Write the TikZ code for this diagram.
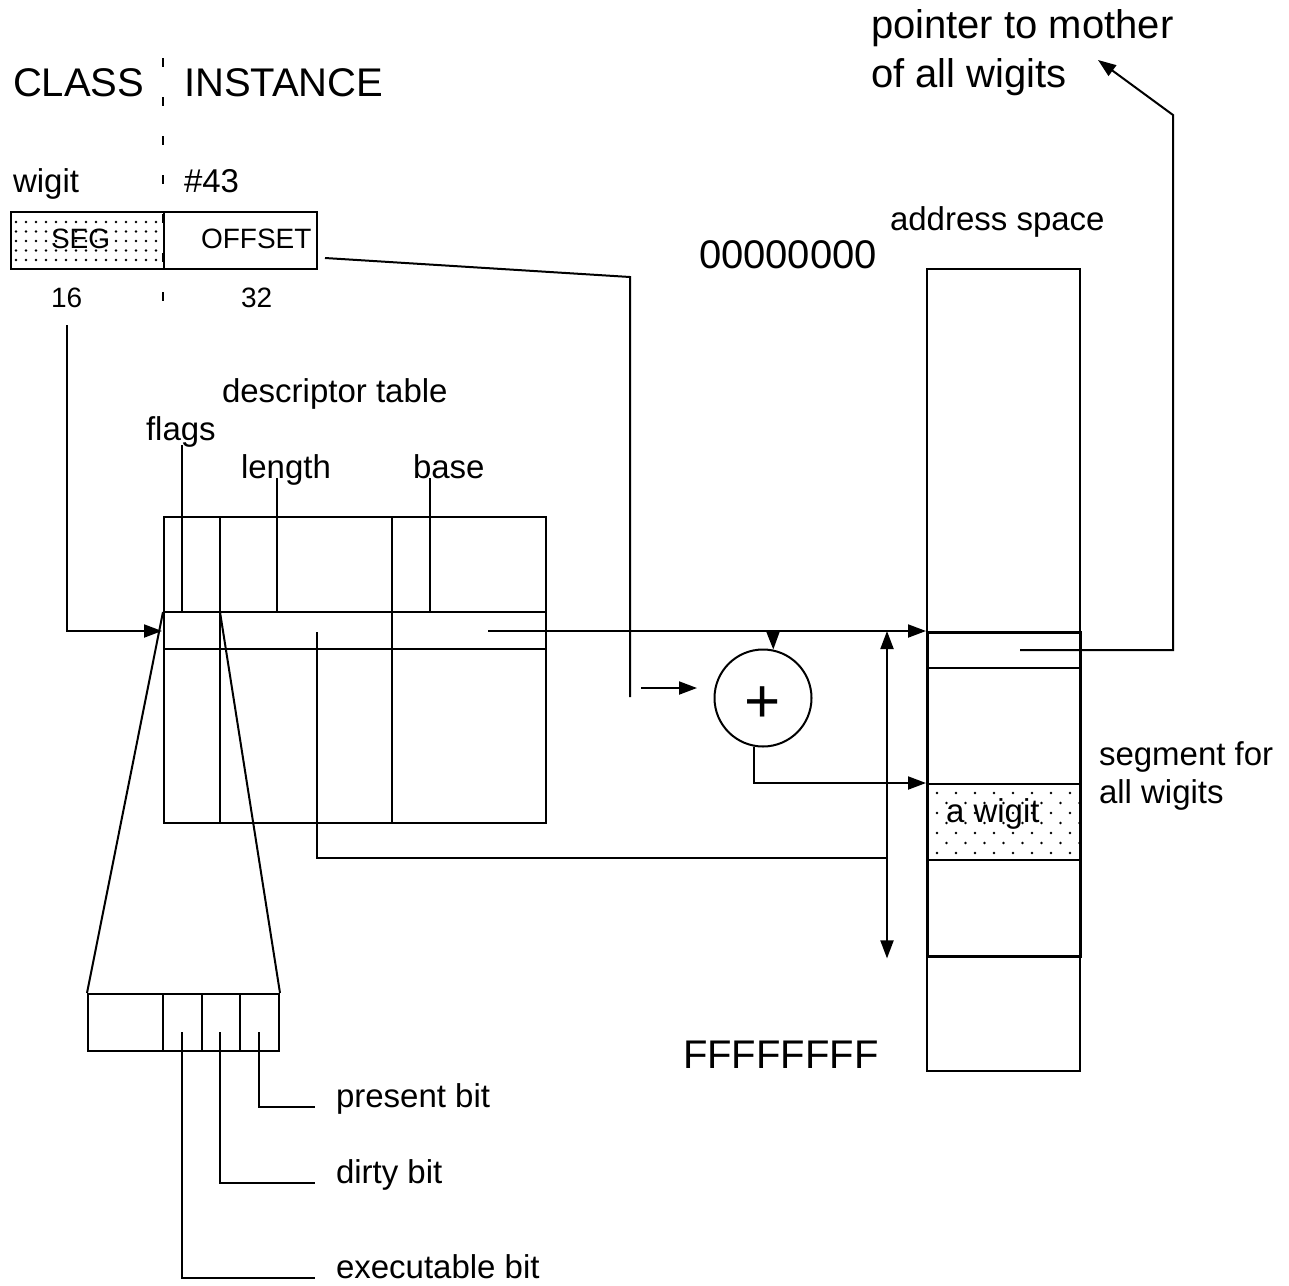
\documentclass[tikz,border=0pt]{standalone}
\usepackage{fontspec}
\setmainfont{Liberation Sans}
\usetikzlibrary{arrows.meta,positioning,calc}
\definecolor{ink}{HTML}{000000}
\newcommand{\bigtxt}{\fontsize{20}{24}\selectfont}
\newcommand{\midtxt}{\fontsize{16.5}{20}\selectfont}
\newcommand{\smalltxt}{\fontsize{14}{17}\selectfont}
\newcommand{\plustxt}{\fontsize{31}{31}\selectfont}
\newcommand{\lbl}[4]{%
  \node[anchor=base west, inner sep=0pt, text=ink] (#1) at (#2,#3) {#4};}
\begin{document}
\begin{tikzpicture}[x=0.5pt,y=-0.5pt,line width=1pt,color=ink,
  tip/.style={-{Triangle[length=9pt,width=6.5pt]}},
  twotip/.style={{Triangle[length=9pt,width=6.5pt]}-{Triangle[length=9pt,width=6.5pt]}},
  cell/.style={draw=ink,rectangle,inner sep=0pt,anchor=north west}]

\useasboundingbox (0,0) rectangle (1289,1285);

% ---------- class / instance header
\lbl{cls}{12}{96}{\bigtxt CLASS}
\lbl{inst}{183}{96}{\bigtxt INSTANCE}
\coordinate (divtop) at (163,58);
\coordinate (divbot) at (163,301);
\draw[dash pattern=on 4.5pt off 15pt] (divtop) -- (divbot);
\lbl{cname}{12}{192}{\midtxt wigit}
\lbl{iname}{183}{192}{\midtxt \#43}

% ---------- pointer word
\node[cell, minimum width=76.5pt, minimum height=28.5pt] (seg) at (10,211) {};
\node[cell, minimum width=76.5pt, minimum height=28.5pt] (off) at (163,211) {};
\begin{scope}
  \clip (seg.north west) rectangle (seg.south east);
  \foreach \i in {0,...,14} \foreach \j in {0,...,4}
    \fill ({16+\i*10},{222+\j*9.5}) circle (0.65pt);
\end{scope}
\lbl{segtxt}{50}{248}{\smalltxt SEG}
\lbl{offtxt}{200}{248}{\smalltxt OFFSET}
\lbl{segbits}{50}{307}{\smalltxt 16}
\lbl{offbits}{240}{307}{\smalltxt 32}

% ---------- descriptor table
\lbl{dtitle}{221}{402}{\midtxt descriptor table}
\lbl{fl}{145}{440}{\midtxt flags}
\lbl{len}{240}{478}{\midtxt length}
\lbl{bas}{412}{478}{\midtxt base}
\node[cell, minimum width=191pt, minimum height=153pt] (desc) at (163,516) {};
\draw (163,612) -- (545,612) (163,649) -- (545,649)
      (220,516) -- (220,822) (392,516) -- (392,822);
\draw (182,445) -- (182,612) (277,478) -- (277,612) (430,478) -- (430,612);

% ---------- flag bits
\node[cell, minimum width=95.5pt, minimum height=28.5pt] (bits) at (87,993) {};
\draw (163,993) -- (163,1050) (202,993) -- (202,1050) (240,993) -- (240,1050);
\coordinate (flagl) at (163,612);
\coordinate (flagr) at (220,612);
\draw (flagl) -- (bits.north west) (flagr) -- (bits.north east);
\foreach \x/\y/\name in {259/1107/present, 220/1183/dirty, 182/1278/executable} {
  \coordinate (\name tap) at (\x,1032);
  \lbl{\name}{335}{\y}{\midtxt \name\ bit}
  \draw (\name tap) |- ([xshift=-10pt]\name.base west);
}

% ---------- address space
\lbl{astitle}{889}{230}{\midtxt address space}
\lbl{lo}{698}{268}{\bigtxt 00000000}
\lbl{hi}{682}{1068}{\bigtxt FFFFFFFF}
\node[cell, minimum width=76.5pt, minimum height=401pt] (addr) at (926,268) {};
\node[cell, line width=1.2pt, minimum width=76.5pt, minimum height=38pt] (slot) at (926,783) {};
\begin{scope}
  \clip (slot.north west) rectangle (slot.south east);
  \foreach \j in {0,...,6} \foreach \i in {0,...,8}
    \fill ({937+\i*19+mod(\j,2)*9.5},{793+\j*10}) circle (0.65pt);
\end{scope}
\node[cell, line width=1.7pt, minimum width=76.5pt, minimum height=162pt] (segm) at (926,631) {};
\draw (926,668) -- (1079,668);
\lbl{wig}{945}{822}{\midtxt a wigit}
\lbl{sg1}{1098}{765}{\midtxt segment for}
\lbl{sg2}{1098}{803}{\midtxt all wigits}
\lbl{mo1}{870}{38}{\bigtxt pointer to mother}
\lbl{mo2}{870}{87}{\bigtxt of all wigits}

% ---------- adder
\node[draw, circle, minimum size=48.5pt, inner sep=0pt, font=\plustxt] (plus) at (763,698)
  {\raisebox{-12pt}[0pt][0pt]{+}};

% ---------- connectors
\coordinate (segtap) at (67,325);
\coordinate (rowin) at (162,631);
\draw[tip] (segtap) |- (rowin);
\coordinate (offtap) at (325,258);
\coordinate (offbend) at (630,277);
\coordinate (offend) at (630,697);
\draw (offtap) -- (offbend) -- (offend);
\coordinate (addin) at (641,688);
\coordinate (addtip) at (697,688);
\draw[tip] (addin) -- (addtip);
\coordinate (basetap) at (488,631);
\coordinate (basefork) at (773,631);
\draw[tip] (basetap) -- (segm.north west);
\draw[tip] (basefork) -- (plus.78);
\draw[tip] (plus.-100) |- (slot.north west);
\coordinate (lentap) at (317,632);
\coordinate (spanleft) at (887,858);
\draw (lentap) |- (spanleft);
\draw[twotip] (segm.north west -| spanleft) -- (segm.south west -| spanleft);
\coordinate (motap) at (1020,650);
\coordinate (mobend) at (1173,115);
\coordinate (motip) at (1098,60);
\draw[tip] (motap) -| (mobend) -- (motip);

\end{tikzpicture}
\end{document}
